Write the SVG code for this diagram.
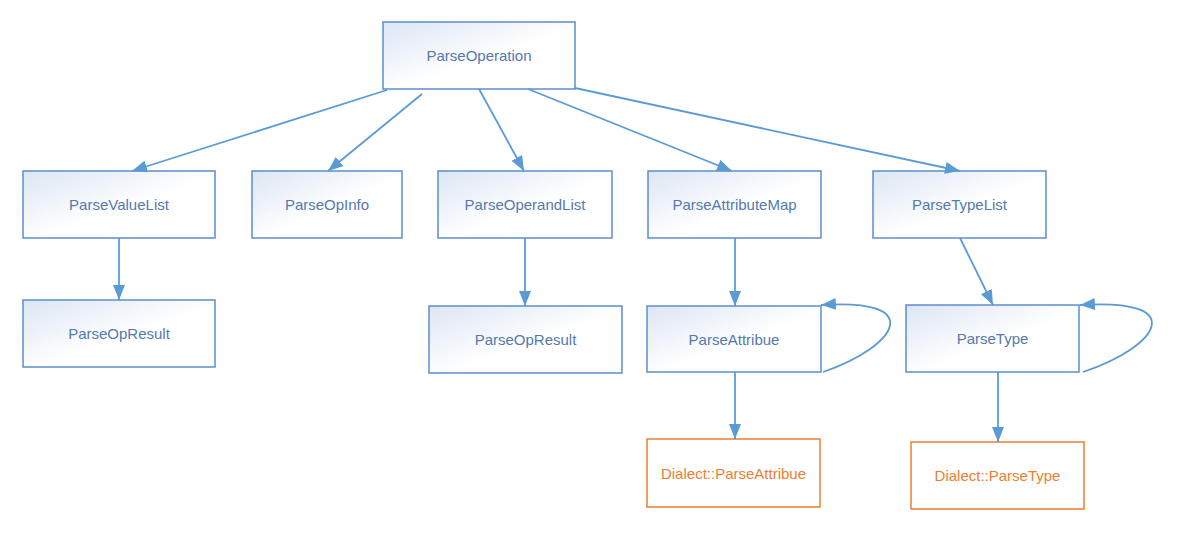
<svg xmlns="http://www.w3.org/2000/svg" width="1181" height="535" viewBox="0 0 1181 535">
<style>
.n rect{fill:url(#g);stroke:#5B8FCB;stroke-width:1.5}
.n text{fill:#5479B0;font-family:"Liberation Sans",Arial,sans-serif;font-size:15px;text-anchor:middle;dominant-baseline:central}
.o rect{fill:#ffffff;stroke:#ED7D31;stroke-width:1.5}
.o text{fill:#ED7D31;font-family:"Liberation Sans",Arial,sans-serif;font-size:15px;text-anchor:middle;dominant-baseline:central}
.c path{fill:none;stroke:#5B9BD5;stroke-width:1.8;marker-end:url(#a)}
</style>
<defs>
<linearGradient id="g" x1="0" y1="0" x2="1" y2="1">
<stop offset="0" stop-color="#DCE6F4"/>
<stop offset="0.55" stop-color="#FFFFFF"/>
<stop offset="1" stop-color="#FFFFFF"/>
</linearGradient>
<marker id="a" viewBox="0 0 15 12" refX="15" refY="6" markerWidth="15" markerHeight="12" markerUnits="userSpaceOnUse" orient="auto">
<path d="M0,0 L15,6 L0,12 z" fill="#5B9BD5"/>
</marker>
</defs>
<rect width="1181" height="535" fill="#ffffff"/>
<g id="ParseOperation" class="n"><rect x="383" y="22" width="192" height="67"/><text x="479" y="55.5">ParseOperation</text></g>
<g id="ParseValueList" class="n"><rect x="23" y="171" width="192" height="67"/><text x="119" y="204.5">ParseValueList</text></g>
<g id="ParseOpInfo" class="n"><rect x="252" y="171" width="150" height="67"/><text x="327" y="204.5">ParseOpInfo</text></g>
<g id="ParseOperandList" class="n"><rect x="438" y="171" width="174" height="67"/><text x="525" y="204.5">ParseOperandList</text></g>
<g id="ParseAttributeMap" class="n"><rect x="648" y="171" width="173" height="67"/><text x="734.5" y="204.5">ParseAttributeMap</text></g>
<g id="ParseTypeList" class="n"><rect x="873" y="171" width="173" height="67"/><text x="959.5" y="204.5">ParseTypeList</text></g>
<g id="ParseOpResult1" class="n"><rect x="23" y="300" width="192" height="67"/><text x="119" y="333.5">ParseOpResult</text></g>
<g id="ParseOpResult2" class="n"><rect x="429" y="306" width="193" height="67"/><text x="525.5" y="339.5">ParseOpResult</text></g>
<g id="ParseAttribue" class="n"><rect x="647" y="306" width="174" height="66"/><text x="734" y="339">ParseAttribue</text></g>
<g id="ParseType" class="n"><rect x="906" y="305" width="173" height="67"/><text x="992.5" y="338.5">ParseType</text></g>
<g id="DialectParseAttribue" class="o"><rect x="647" y="439" width="173" height="68"/><text x="733.5" y="473">Dialect::ParseAttribue</text></g>
<g id="DialectParseType" class="o"><rect x="911" y="442" width="173" height="67"/><text x="997.5" y="475.5">Dialect::ParseType</text></g>
<g id="connectors" class="c">
<path d="M387,90 L132,171"/>
<path d="M422,94 L328,171"/>
<path d="M479,89 L524,171"/>
<path d="M528,89 L732,171"/>
<path d="M575,88 L960,171"/>
<path d="M119,238 L119,300"/>
<path d="M525,238 L525,306"/>
<path d="M735,238 L735,306"/>
<path d="M960,238 L993,305"/>
<path d="M735,372 L735,439"/>
<path d="M998,372 L998,442"/>
<path d="M823,372 C900,345 925,298 821,305"/>
<path d="M1083,372 C1162,345 1188,298 1080,305"/>
</g>
</svg>
